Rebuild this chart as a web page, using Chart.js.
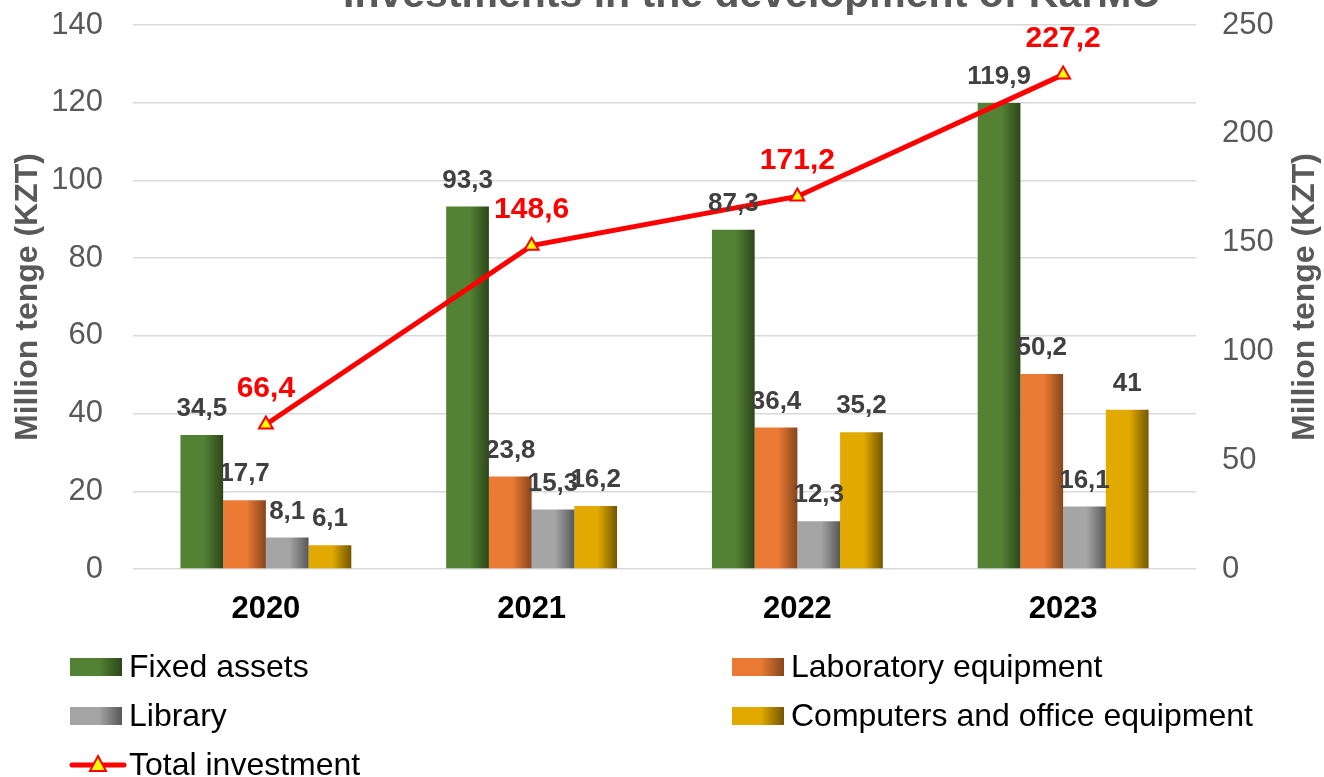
<!DOCTYPE html>
<html>
<head>
<meta charset="utf-8">
<script src="https://cdn.jsdelivr.net/npm/chart.js@4/dist/chart.umd.min.js"></script>
<style>
  html, body { margin: 0; padding: 0; background: #fff; }
  #wrap { width: 1324px; height: 777px; position: relative; }
</style>
</head>
<body>
<div id="wrap"><canvas id="myChart" width="1324" height="777"></canvas></div>
<script>
var years = ['2020', '2021', '2022', '2023'];
var fixedAssets = [34.5, 93.3, 87.3, 119.9];
var labEquipment = [17.7, 23.8, 36.4, 50.2];
var library = [8.1, 15.3, 12.3, 16.1];
var computers = [6.1, 16.2, 35.2, 41];
var totalInvestment = [66.4, 148.6, 171.2, 227.2];
var leftTicks = [0, 20, 40, 60, 80, 100, 120, 140];
var rightTicks = [0, 50, 100, 150, 200, 250];

var FONT = '"Liberation Sans", Arial, sans-serif';
var AXIS_TITLE = 'Million tenge (KZT)';
// light / dark pairs for the bar shading
var shades = {
	'Fixed assets': ['#548235', '#2c4619'],
	'Laboratory equipment': ['#ea7a34', '#86461c'],
	'Library': ['#a5a5a5', '#585858'],
	'Computers and office equipment': ['#e2aa00', '#745600']
};

function fmt(v) {
	return String(v).replace('.', ',');
}

function shadeFill(ctx, x0, x1, label) {
	var g = ctx.createLinearGradient(x0, 0, x1, 0);
	g.addColorStop(0, shades[label][0]);
	g.addColorStop(0.55, shades[label][0]);
	g.addColorStop(1, shades[label][1]);
	return g;
}

// y axes: fixed width, and no extra top/bottom room from the tick padding
function fixAxis(width) {
	return function (s) {
		s.width = width;
		s.paddingTop = 0;
		s.paddingBottom = 0;
	};
}

// shaded bars (each bar gets its own options copy, the shared one is reused)
var barShading = {
	id: 'barShading',
	beforeDatasetsDraw: function (chart) {
		var ctx = chart.ctx;
		chart.data.datasets.forEach(function (ds, i) {
			if (ds.type === 'line') return;
			chart.getDatasetMeta(i).data.forEach(function (el) {
				var o = Object.assign({}, el.options);
				o.backgroundColor = shadeFill(ctx, el.x - el.width / 2, el.x + el.width / 2, ds.label);
				el.options = o;
			});
		});
	}
};

// value labels
var valueLabels = {
	id: 'valueLabels',
	afterDatasetsDraw: function (chart) {
		var ctx = chart.ctx;
		ctx.save();
		ctx.textAlign = 'center';
		ctx.textBaseline = 'middle';
		// bars first, line labels on top
		chart.data.datasets.forEach(function (ds, i) {
			if (ds.type === 'line') return;
			ctx.font = 'bold 26px ' + FONT;
			ctx.fillStyle = '#404040';
			chart.getDatasetMeta(i).data.forEach(function (el, j) {
				ctx.fillText(fmt(ds.data[j]), el.x, el.y - 26);
			});
		});
		chart.data.datasets.forEach(function (ds, i) {
			if (ds.type !== 'line') return;
			ctx.font = 'bold 30px ' + FONT;
			ctx.fillStyle = '#ff0000';
			chart.getDatasetMeta(i).data.forEach(function (el, j) {
				ctx.fillText(fmt(ds.data[j]), el.x, el.y - 36);
			});
		});
		ctx.restore();
	}
};

// cut-off title, right axis title, two column legend
var decorations = {
	id: 'decorations',
	afterDraw: function (chart) {
		var ctx = chart.ctx;
		var area = chart.chartArea;
		ctx.save();
		ctx.font = 'bold 41px ' + FONT;
		ctx.fillStyle = '#595959';
		ctx.textAlign = 'center';
		ctx.textBaseline = 'alphabetic';
		ctx.fillText('Investments in the development of KarMU', 752, 7);

		// right title reads bottom to top like the left one
		ctx.save();
		ctx.translate(1305, (area.top + area.bottom) / 2);
		ctx.rotate(-Math.PI / 2);
		ctx.font = 'bold 32px ' + FONT;
		ctx.textBaseline = 'middle';
		ctx.fillText(AXIS_TITLE, 0, 0);
		ctx.restore();

		var spots = [[70, 667], [732, 667], [70, 716], [732, 716], [70, 765]];
		ctx.font = '32px ' + FONT;
		ctx.textAlign = 'left';
		ctx.textBaseline = 'middle';
		chart.data.datasets.forEach(function (ds, i) {
			var p = spots[i];
			if (ds.type === 'line') {
				ctx.strokeStyle = '#ff0000';
				ctx.lineWidth = 5;
				ctx.lineCap = 'round';
				ctx.beginPath();
				ctx.moveTo(p[0] + 2, p[1]);
				ctx.lineTo(p[0] + 54, p[1]);
				ctx.stroke();
				ctx.beginPath();
				ctx.moveTo(p[0] + 28, p[1] - 9);
				ctx.lineTo(p[0] + 36, p[1] + 6);
				ctx.lineTo(p[0] + 20, p[1] + 6);
				ctx.closePath();
				ctx.fillStyle = '#ffff00';
				ctx.fill();
				ctx.lineWidth = 2;
				ctx.lineJoin = 'miter';
				ctx.stroke();
			} else {
				ctx.fillStyle = shadeFill(ctx, p[0], p[0] + 52, ds.label);
				ctx.fillRect(p[0], p[1] - 9, 52, 18);
			}
			ctx.fillStyle = '#000000';
			ctx.fillText(ds.label, p[0] + 59, p[1] + 1);
		});
		ctx.restore();
	}
};

var ctx = document.getElementById('myChart').getContext('2d');
var myChart = new Chart(ctx, {
	type: 'bar',
	data: {
		labels: years,
		datasets: [{
			label: 'Fixed assets',
			data: fixedAssets,
			backgroundColor: '#548235',
			order: 2
		}, {
			label: 'Laboratory equipment',
			data: labEquipment,
			backgroundColor: '#ea7a34',
			order: 2
		}, {
			label: 'Library',
			data: library,
			backgroundColor: '#a5a5a5',
			order: 2
		}, {
			label: 'Computers and office equipment',
			data: computers,
			backgroundColor: '#e2aa00',
			order: 2
		}, {
			type: 'line',
			label: 'Total investment',
			data: totalInvestment,
			yAxisID: 'y1',
			borderColor: '#ff0000',
			borderWidth: 5,
			pointStyle: 'triangle',
			pointRadius: 8,
			pointBackgroundColor: '#ffff00',
			pointBorderColor: '#ff0000',
			pointBorderWidth: 2,
			tension: 0,
			clip: false,
			order: 0
		}]
	},
	options: {
		responsive: false,
		animation: false,
		layout: { autoPadding: false, padding: { top: 25, bottom: 148, left: 0, right: 0 } },
		datasets: {
			bar: { categoryPercentage: 0.643, barPercentage: 1 }
		},
		plugins: {
			legend: { display: false },
			tooltip: { enabled: false }
		},
		scales: {
			x: {
				grid: { display: false, drawTicks: false },
				border: { display: false },
				ticks: { color: '#000000', padding: 22, font: { family: FONT, size: 31, weight: 'bold' } },
				afterFit: function (s) { s.height = 60; }
			},
			y: {
				position: 'left',
				min: 0,
				max: 140,
				afterBuildTicks: function (s) { s.ticks = leftTicks.map(function (v) { return { value: v }; }); },
				grid: { color: '#d9d9d9', lineWidth: 1.5, drawTicks: false },
				border: { display: false },
				ticks: { color: '#595959', padding: 30, font: { family: FONT, size: 31 } },
				title: {
					display: true,
					text: AXIS_TITLE,
					color: '#595959',
					font: { family: FONT, size: 32, weight: 'bold' },
					padding: { top: 9, bottom: 0 }
				},
				afterFit: fixAxis(133)
			},
			y1: {
				position: 'right',
				min: 0,
				max: 250,
				afterBuildTicks: function (s) { s.ticks = rightTicks.map(function (v) { return { value: v }; }); },
				grid: { display: false, drawTicks: false },
				border: { display: false },
				ticks: { color: '#595959', padding: 26, font: { family: FONT, size: 31 } },
				afterFit: fixAxis(128)
			}
		}
	},
	plugins: [barShading, valueLabels, decorations]
});
</script>
</body>
</html>
